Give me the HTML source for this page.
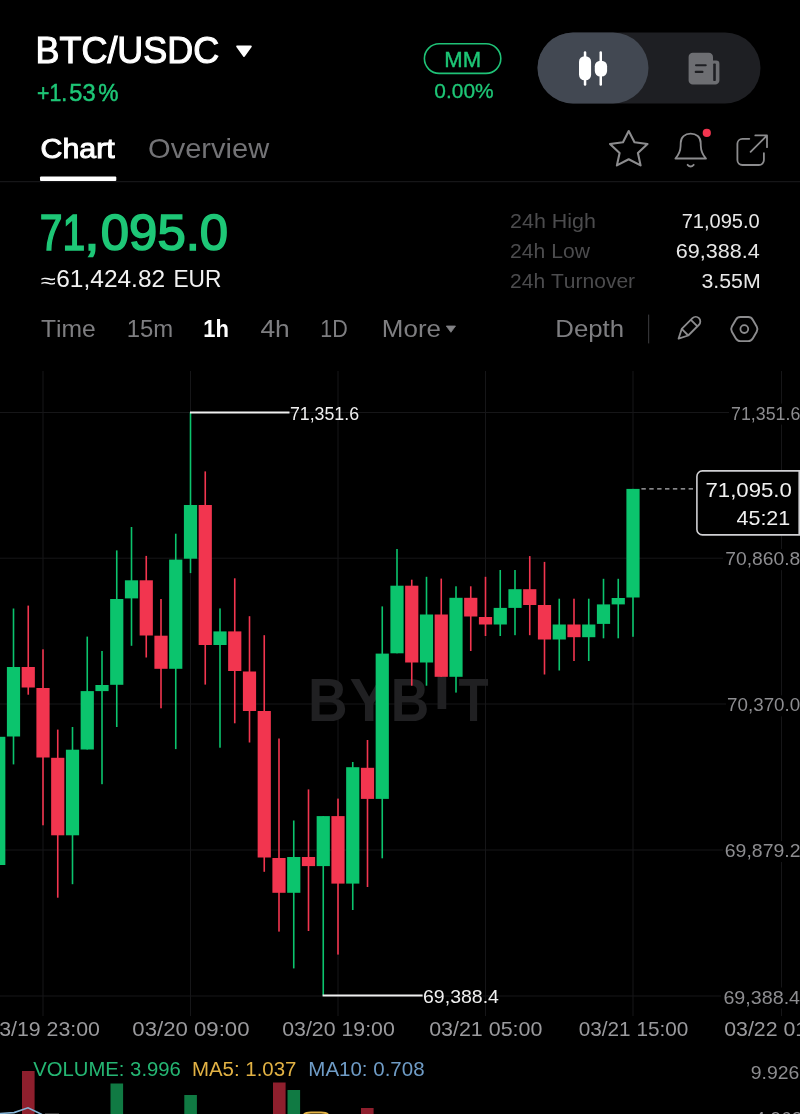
<!DOCTYPE html>
<html><head><meta charset="utf-8"><title>BTC/USDC</title>
<style>
html,body{margin:0;padding:0;background:#000;}
body{width:800px;height:1114px;overflow:hidden;position:relative;}
svg{position:absolute;left:0;top:0;display:block;will-change:transform;}
text{font-family:"Liberation Sans", "DejaVu Sans", sans-serif;font-kerning:none;}
</style></head>
<body>
<svg width="800" height="1114" viewBox="0 0 800 1114">
<rect width="800" height="1114" fill="#000"/>
<rect x="42.5" y="371" width="1" height="645" fill="#161618"/><rect x="190" y="371" width="1" height="645" fill="#161618"/><rect x="337.5" y="371" width="1" height="645" fill="#161618"/><rect x="485" y="371" width="1" height="645" fill="#161618"/><rect x="632.5" y="371" width="1" height="645" fill="#161618"/><rect x="781" y="371" width="1" height="645" fill="#161618"/><rect x="0" y="412" width="729" height="1" fill="#161618"/><rect x="0" y="557.7" width="723" height="1" fill="#161618"/><rect x="0" y="703.5" width="726" height="1" fill="#161618"/><rect x="0" y="849.5" width="723" height="1" fill="#161618"/><rect x="0" y="995.5" width="721" height="1" fill="#161618"/>
<text font-size="61.8" fill="#202022" font-weight="700"><tspan x="308.08" y="721.1" textLength="39.61" lengthAdjust="spacingAndGlyphs">B</tspan><tspan x="349.59" y="721.1" textLength="39.36" lengthAdjust="spacingAndGlyphs">Y</tspan><tspan x="390.84" y="721.1" textLength="38.48" lengthAdjust="spacingAndGlyphs">B</tspan><tspan x="433.46" y="708.8" textLength="16.78" lengthAdjust="spacingAndGlyphs">I</tspan><tspan x="458.45" y="721.1" textLength="30.08" lengthAdjust="spacingAndGlyphs">T</tspan></text>
<rect x="-7.85" y="736.8" width="13.2" height="128.2" fill="#0bc46d"/><rect x="12.7" y="608.5" width="1.6" height="155.9" fill="#0bc46d"/><rect x="6.9" y="667" width="13.2" height="69.5" fill="#0bc46d"/><rect x="27.45" y="605.6" width="1.6" height="89.1" fill="#f2354f"/><rect x="21.65" y="667" width="13.2" height="20.5" fill="#f2354f"/><rect x="42.2" y="649.3" width="1.6" height="176" fill="#f2354f"/><rect x="36.4" y="688" width="13.2" height="69.5" fill="#f2354f"/><rect x="56.95" y="729.6" width="1.6" height="168.1" fill="#f2354f"/><rect x="51.15" y="757.8" width="13.2" height="77.5" fill="#f2354f"/><rect x="71.7" y="727" width="1.6" height="157.2" fill="#0bc46d"/><rect x="65.9" y="749.7" width="13.2" height="85.6" fill="#0bc46d"/><rect x="86.45" y="636.6" width="1.6" height="112.9" fill="#0bc46d"/><rect x="80.65" y="691.1" width="13.2" height="58.4" fill="#0bc46d"/><rect x="101.2" y="651" width="1.6" height="133.2" fill="#0bc46d"/><rect x="95.4" y="685" width="13.2" height="6.1" fill="#0bc46d"/><rect x="115.95" y="550.4" width="1.6" height="176.6" fill="#0bc46d"/><rect x="110.15" y="599" width="13.2" height="85.8" fill="#0bc46d"/><rect x="130.7" y="527" width="1.6" height="118.8" fill="#0bc46d"/><rect x="124.9" y="580.3" width="13.2" height="18.1" fill="#0bc46d"/><rect x="145.45" y="555.9" width="1.6" height="101.6" fill="#f2354f"/><rect x="139.65" y="580.3" width="13.2" height="55.2" fill="#f2354f"/><rect x="160.2" y="599" width="1.6" height="109.3" fill="#f2354f"/><rect x="154.4" y="635.7" width="13.2" height="33.1" fill="#f2354f"/><rect x="174.95" y="533.7" width="1.6" height="215.4" fill="#0bc46d"/><rect x="169.15" y="559.6" width="13.2" height="109.2" fill="#0bc46d"/><rect x="189.7" y="412.5" width="1.6" height="160.6" fill="#0bc46d"/><rect x="183.9" y="505" width="13.2" height="53.7" fill="#0bc46d"/><rect x="204.45" y="471.4" width="1.6" height="213.2" fill="#f2354f"/><rect x="198.65" y="505" width="13.2" height="140" fill="#f2354f"/><rect x="219.2" y="608.4" width="1.6" height="139.3" fill="#0bc46d"/><rect x="213.4" y="631.4" width="13.2" height="13.6" fill="#0bc46d"/><rect x="233.95" y="578.3" width="1.6" height="145" fill="#f2354f"/><rect x="228.15" y="631.4" width="13.2" height="39.6" fill="#f2354f"/><rect x="248.7" y="616.2" width="1.6" height="126.3" fill="#f2354f"/><rect x="242.9" y="671.5" width="13.2" height="39.5" fill="#f2354f"/><rect x="263.45" y="635.2" width="1.6" height="236.6" fill="#f2354f"/><rect x="257.65" y="711" width="13.2" height="146.5" fill="#f2354f"/><rect x="278.2" y="738.5" width="1.6" height="193.1" fill="#f2354f"/><rect x="272.4" y="858" width="13.2" height="34.8" fill="#f2354f"/><rect x="292.95" y="820.5" width="1.6" height="147.9" fill="#0bc46d"/><rect x="287.15" y="857" width="13.2" height="35.8" fill="#0bc46d"/><rect x="307.7" y="789.4" width="1.6" height="141.6" fill="#f2354f"/><rect x="301.9" y="857" width="13.2" height="9.1" fill="#f2354f"/><rect x="322.45" y="816.1" width="1.6" height="179.4" fill="#0bc46d"/><rect x="316.65" y="816.1" width="13.2" height="50" fill="#0bc46d"/><rect x="337.2" y="798.6" width="1.6" height="156" fill="#f2354f"/><rect x="331.4" y="816.1" width="13.2" height="67.5" fill="#f2354f"/><rect x="351.95" y="762" width="1.6" height="148" fill="#0bc46d"/><rect x="346.15" y="767.2" width="13.2" height="116.4" fill="#0bc46d"/><rect x="366.7" y="740" width="1.6" height="147" fill="#f2354f"/><rect x="360.9" y="767.8" width="13.2" height="31.1" fill="#f2354f"/><rect x="381.45" y="606.4" width="1.6" height="251.9" fill="#0bc46d"/><rect x="375.65" y="653.6" width="13.2" height="145.3" fill="#0bc46d"/><rect x="396.2" y="549" width="1.6" height="104.3" fill="#0bc46d"/><rect x="390.4" y="585.7" width="13.2" height="67.6" fill="#0bc46d"/><rect x="410.95" y="579.7" width="1.6" height="106" fill="#f2354f"/><rect x="405.15" y="585.7" width="13.2" height="76.8" fill="#f2354f"/><rect x="425.7" y="576.8" width="1.6" height="108.9" fill="#0bc46d"/><rect x="419.9" y="614.5" width="13.2" height="48" fill="#0bc46d"/><rect x="440.45" y="578.6" width="1.6" height="98.2" fill="#f2354f"/><rect x="434.65" y="614.5" width="13.2" height="62.3" fill="#f2354f"/><rect x="455.2" y="586.3" width="1.6" height="106.3" fill="#0bc46d"/><rect x="449.4" y="597.8" width="13.2" height="79" fill="#0bc46d"/><rect x="469.95" y="586.3" width="1.6" height="64.7" fill="#f2354f"/><rect x="464.15" y="597.8" width="13.2" height="18.7" fill="#f2354f"/><rect x="484.7" y="576.8" width="1.6" height="59.2" fill="#f2354f"/><rect x="478.9" y="617" width="13.2" height="7.5" fill="#f2354f"/><rect x="499.45" y="570" width="1.6" height="66" fill="#0bc46d"/><rect x="493.65" y="607.9" width="13.2" height="16.6" fill="#0bc46d"/><rect x="514.2" y="570" width="1.6" height="65.2" fill="#0bc46d"/><rect x="508.4" y="589.2" width="13.2" height="18.7" fill="#0bc46d"/><rect x="528.95" y="556.1" width="1.6" height="79.1" fill="#f2354f"/><rect x="523.15" y="589.2" width="13.2" height="15.8" fill="#f2354f"/><rect x="543.7" y="561.9" width="1.6" height="112.6" fill="#f2354f"/><rect x="537.9" y="605" width="13.2" height="34.5" fill="#f2354f"/><rect x="558.45" y="598.7" width="1.6" height="71.8" fill="#0bc46d"/><rect x="552.65" y="624.5" width="13.2" height="15" fill="#0bc46d"/><rect x="573.2" y="598.7" width="1.6" height="62.3" fill="#f2354f"/><rect x="567.4" y="624.5" width="13.2" height="12.7" fill="#f2354f"/><rect x="587.95" y="598.7" width="1.6" height="62.3" fill="#0bc46d"/><rect x="582.15" y="624.5" width="13.2" height="12.7" fill="#0bc46d"/><rect x="602.7" y="578.8" width="1.6" height="59.5" fill="#0bc46d"/><rect x="596.9" y="604.4" width="13.2" height="19.5" fill="#0bc46d"/><rect x="617.45" y="578.8" width="1.6" height="59.5" fill="#0bc46d"/><rect x="611.65" y="598" width="13.2" height="6.4" fill="#0bc46d"/><rect x="632.2" y="488.9" width="1.6" height="147.9" fill="#0bc46d"/><rect x="626.4" y="488.9" width="13.2" height="108.6" fill="#0bc46d"/>

<!-- high marker -->
<rect x="190" y="411.5" width="99.5" height="2" fill="#f0f0f0"/>
<!-- low marker -->
<rect x="322.6" y="994.5" width="100" height="2" fill="#f0f0f0"/>
<!-- current price dashed -->
<line x1="641.4" y1="488.9" x2="694" y2="488.9" stroke="#b4b4b7" stroke-width="1.3" stroke-dasharray="4.4 3.47"/>
<path d="M799.2 470.9 H702.4 A5.5 5.5 0 0 0 696.9 476.4 V529.4 A5.5 5.5 0 0 0 702.4 534.9 H799.2 Z" fill="#000" stroke="#d0d0d3" stroke-width="1.6"/>


<rect x="22" y="1071" width="12.6" height="50" fill="#8e1f2d"/>
<rect x="110.5" y="1083.5" width="12.6" height="40" fill="#107a43"/>
<rect x="184.3" y="1095" width="12.6" height="40" fill="#107a43"/>
<rect x="273" y="1082.5" width="12.6" height="40" fill="#8e1f2d"/>
<rect x="287.5" y="1090" width="12.6" height="40" fill="#107a43"/>
<rect x="361" y="1108" width="12.6" height="40" fill="#8e1f2d"/>
<path d="M-2 1113.6 L14 1112.6 L28 1107.8 L42 1114.5" fill="none" stroke="#86b4d6" stroke-width="1.6"/><path d="M45 1113.8 L59 1113.8" fill="none" stroke="#555" stroke-width="1"/>
<path d="M303 1115.5 Q305 1112.5 311 1112.5 L321 1112.5 Q327 1112.5 329 1115.5" fill="none" stroke="#e2b244" stroke-width="1.8"/>


<!-- MM pill -->
<rect x="424.4" y="43.8" width="76.4" height="29.6" rx="14.8" fill="none" stroke="#1fc277" stroke-width="1.6"/>
<!-- toggle -->
<rect x="537.5" y="32.5" width="223" height="71" rx="35.5" fill="#1e1f23"/>
<rect x="537.5" y="32.5" width="111" height="71" rx="35.5" fill="#424852"/>
<!-- candle icon -->
<rect x="583.8" y="51.2" width="2.5" height="34.6" rx="1.2" fill="#fff"/>
<rect x="579" y="56.25" width="12.1" height="24" rx="5.5" fill="#fff"/>
<rect x="599.5" y="51.2" width="2.5" height="34.6" rx="1.2" fill="#fff"/>
<rect x="594.8" y="60.75" width="12.3" height="15.75" rx="5.5" fill="#fff"/>
<!-- doc icon -->
<path d="M692.8 52.7 H708.8 A4.2 4.2 0 0 1 713 56.9 V60.6 H716.2 A3.2 3.2 0 0 1 719.4 63.8 V80.4 A4.2 4.2 0 0 1 715.2 84.6 H692.8 A4.2 4.2 0 0 1 688.6 80.4 V56.9 A4.2 4.2 0 0 1 692.8 52.7 Z" fill="#6d6e72"/>
<rect x="713.2" y="63.4" width="2.6" height="17.6" rx="0.8" fill="#1e1f23"/>
<rect x="695" y="64.2" width="11.75" height="2.1" rx="1" fill="#1e1f23"/>
<rect x="694.7" y="70.8" width="8.8" height="2.1" rx="1" fill="#1e1f23"/>
<!-- title triangle -->
<path d="M237.2 46.4 L250.8 46.4 L244 56 Z" fill="#fff" stroke="#fff" stroke-width="2" stroke-linejoin="round"/>
<!-- star -->
<path d="M628.7 131 L634.5 142.3 L647.5 144 L637.9 153 L640.6 165.4 L628.7 159.2 L616.9 165.4 L619.6 153 L610 144 L623 142.3 Z" fill="none" stroke="#8c8c8e" stroke-width="2.1" stroke-linejoin="round"/>
<!-- bell -->
<path d="M675.4 158.5 C679.5 154 680.5 151 680.6 146 L680.7 143 C680.7 137 685 133.6 690.6 133.6 C696.2 133.6 700.7 137 700.7 143 L700.8 146 C700.9 151 701.9 154 706 158.5 Z" fill="none" stroke="#8c8c8e" stroke-width="1.8" stroke-linejoin="round"/>
<path d="M687.6 164.8 Q690.6 168.2 693.7 164.8" fill="none" stroke="#8c8c8e" stroke-width="1.8" stroke-linecap="round"/>
<circle cx="706.8" cy="132.9" r="4.1" fill="#f2354f"/>
<!-- share -->
<path d="M749.3 138.8 H742.4 A5 5 0 0 0 737.4 143.8 V160 A5 5 0 0 0 742.4 165 H758.9 A5 5 0 0 0 763.9 160 V153.2" fill="none" stroke="#8c8c8e" stroke-width="1.8" stroke-linecap="round"/>
<path d="M750.6 151.8 L766.8 135.6 M755.3 135.4 H767 V147.2" fill="none" stroke="#8c8c8e" stroke-width="1.8" stroke-linecap="round" stroke-linejoin="round"/>
<!-- tabs underline + divider -->
<rect x="40" y="176.5" width="76.3" height="4.5" rx="1" fill="#fff"/>
<rect x="0" y="181.2" width="800" height="1" fill="#1c1c1e"/>
<!-- More triangle -->
<path d="M446.3 326 L455.5 326 L450.9 332.3 Z" fill="#828285" stroke="#828285" stroke-width="0.8" stroke-linejoin="round"/>
<!-- divider -->
<rect x="648" y="314.6" width="1.2" height="28.8" fill="#333336"/>
<!-- pencil -->
<g transform="translate(678.6 338.6) rotate(-45)" fill="none" stroke="#8c8c8e" stroke-width="1.8" stroke-linejoin="round">
  <path d="M0 0 L9 -4.6 H24.2 A4.6 4.6 0 0 1 24.2 4.6 H9 Z"/>
  <path d="M9 -4.6 V4.6 M22 -4.6 V4.6"/>
</g>
<!-- hex -->
<path d="M731.90 331.70 Q730.40 329.10 731.90 326.50 L735.85 319.66 Q737.35 317.06 740.35 317.06 L748.25 317.06 Q751.25 317.06 752.75 319.66 L756.70 326.50 Q758.20 329.10 756.70 331.70 L752.75 338.54 Q751.25 341.14 748.25 341.14 L740.35 341.14 Q737.35 341.14 735.85 338.54 Z" fill="none" stroke="#8c8c8e" stroke-width="1.9" stroke-linejoin="round"/>
<circle cx="744.3" cy="329.1" r="3.9" fill="none" stroke="#8c8c8e" stroke-width="1.8"/>

<text x="35.5" y="63.4" font-size="37" fill="#ffffff" font-weight="400" text-anchor="start" textLength="183.72" lengthAdjust="spacingAndGlyphs" stroke="#ffffff" stroke-width="1.1">BTC/USDC</text><text font-size="23.5" fill="#1ec777" font-weight="400" stroke="#1ec777" stroke-width="0.5"><tspan x="37.11" y="101.2" textLength="30.07" lengthAdjust="spacingAndGlyphs">+1.</tspan><tspan x="69.31" y="101.2" textLength="26.23" lengthAdjust="spacingAndGlyphs">53</tspan><tspan x="98.14" y="101.2" textLength="20.22" lengthAdjust="spacingAndGlyphs">%</tspan></text><text x="444.39" y="66.6" font-size="21.2" fill="#1ec777" font-weight="400" text-anchor="start" textLength="36.83" lengthAdjust="spacingAndGlyphs" stroke="#1ec777" stroke-width="0.4">MM</text><text x="434.33" y="98" font-size="20.3" fill="#1ec777" font-weight="400" text-anchor="start" textLength="59.26" lengthAdjust="spacingAndGlyphs" stroke="#1ec777" stroke-width="0.3">0.00%</text><text x="40.46" y="157.6" font-size="28.2" fill="#ffffff" font-weight="400" text-anchor="start" textLength="74.26" lengthAdjust="spacingAndGlyphs" stroke="#ffffff" stroke-width="1.0">Chart</text><text x="148.12" y="157.8" font-size="28.3" fill="#737376" font-weight="400" text-anchor="start" textLength="121" lengthAdjust="spacingAndGlyphs">Overview</text><text font-size="50.5" fill="#1ec777" font-weight="400" stroke="#1ec777" stroke-width="1.6"><tspan x="39.7" y="249.9" textLength="45.49" lengthAdjust="spacingAndGlyphs">71</tspan><tspan x="84.36" y="249.9" textLength="15.29" lengthAdjust="spacingAndGlyphs">,</tspan><tspan x="100.81" y="249.9" textLength="127.38" lengthAdjust="spacingAndGlyphs">095.0</tspan></text><text font-size="24" fill="#f2f2f2" font-weight="400"><tspan font-size="21" x="40.85" y="287.8" textLength="14.99" lengthAdjust="spacingAndGlyphs">≈</tspan><tspan x="56.26" y="287.4" textLength="115.67" lengthAdjust="spacingAndGlyphs">61,424.82 </tspan><tspan x="173.43" y="287.4" textLength="48.02" lengthAdjust="spacingAndGlyphs">EUR</tspan></text><text x="510.12" y="228" font-size="20.3" fill="#4c4c4e" font-weight="400" text-anchor="start" textLength="85.77" lengthAdjust="spacingAndGlyphs">24h High</text><text x="681.67" y="228" font-size="20.3" fill="#e8e8e8" font-weight="400" text-anchor="start" textLength="78.11" lengthAdjust="spacingAndGlyphs">71,095.0</text><text x="510.14" y="257.75" font-size="20.3" fill="#4c4c4e" font-weight="400" text-anchor="start" textLength="79.81" lengthAdjust="spacingAndGlyphs">24h Low</text><text x="675.71" y="257.75" font-size="20.3" fill="#e8e8e8" font-weight="400" text-anchor="start" textLength="83.93" lengthAdjust="spacingAndGlyphs">69,388.4</text><text x="510.14" y="287.5" font-size="20.3" fill="#4c4c4e" font-weight="400" text-anchor="start" textLength="125.01" lengthAdjust="spacingAndGlyphs">24h Turnover</text><text x="701.49" y="287.5" font-size="20.3" fill="#e8e8e8" font-weight="400" text-anchor="start" textLength="59.26" lengthAdjust="spacingAndGlyphs">3.55M</text><text x="40.95" y="337.2" font-size="24.5" fill="#7e7e81" font-weight="400" text-anchor="start" textLength="54.75" lengthAdjust="spacingAndGlyphs">Time</text><text x="126.68" y="337.2" font-size="24.5" fill="#7e7e81" font-weight="400" text-anchor="start" textLength="46.5" lengthAdjust="spacingAndGlyphs">15m</text><text x="203.22" y="337.2" font-size="24.5" fill="#ffffff" font-weight="700" text-anchor="start" textLength="25.65" lengthAdjust="spacingAndGlyphs">1h</text><text x="260.4" y="337.2" font-size="24.5" fill="#7e7e81" font-weight="400" text-anchor="start" textLength="29.32" lengthAdjust="spacingAndGlyphs">4h</text><text x="320.36" y="337.2" font-size="24.5" fill="#7e7e81" font-weight="400" text-anchor="start" textLength="27.46" lengthAdjust="spacingAndGlyphs">1D</text><text x="381.87" y="337.2" font-size="24.5" fill="#7e7e81" font-weight="400" text-anchor="start" textLength="59.08" lengthAdjust="spacingAndGlyphs">More</text><text x="555.28" y="337.2" font-size="24.5" fill="#7e7e81" font-weight="400" text-anchor="start" textLength="68.89" lengthAdjust="spacingAndGlyphs">Depth</text><rect x="730" y="403.6" width="70" height="21" fill="#000"/><text x="731.09" y="419.6" font-size="18.2" fill="#8d8d90" font-weight="400" text-anchor="start" textLength="69.19" lengthAdjust="spacingAndGlyphs">71,351.6</text><rect x="724.3" y="549.1" width="75.7" height="21" fill="#000"/><text x="725.31" y="565.1" font-size="18.2" fill="#8d8d90" font-weight="400" text-anchor="start" textLength="75.03" lengthAdjust="spacingAndGlyphs">70,860.8</text><rect x="726.1" y="695.4" width="73.9" height="21" fill="#000"/><text x="727.14" y="711.4" font-size="18.2" fill="#8d8d90" font-weight="400" text-anchor="start" textLength="73.1" lengthAdjust="spacingAndGlyphs">70,370.0</text><rect x="723.8" y="841" width="76.2" height="21" fill="#000"/><text x="724.81" y="857" font-size="18.2" fill="#8d8d90" font-weight="400" text-anchor="start" textLength="75.66" lengthAdjust="spacingAndGlyphs">69,879.2</text><rect x="722.4" y="987.5" width="77.6" height="21" fill="#000"/><text x="723.4" y="1003.5" font-size="18.2" fill="#8d8d90" font-weight="400" text-anchor="start" textLength="76.68" lengthAdjust="spacingAndGlyphs">69,388.4</text><text x="289.89" y="420.2" font-size="18.2" fill="#f0f0f0" font-weight="400" text-anchor="start" textLength="69.19" lengthAdjust="spacingAndGlyphs">71,351.6</text><text x="423.01" y="1002.5" font-size="18.2" fill="#f0f0f0" font-weight="400" text-anchor="start" textLength="75.96" lengthAdjust="spacingAndGlyphs">69,388.4</text><text x="705.46" y="497.4" font-size="21" fill="#f0f0f0" font-weight="400" text-anchor="start" textLength="86.41" lengthAdjust="spacingAndGlyphs">71,095.0</text><text x="736.51" y="524.7" font-size="21" fill="#f0f0f0" font-weight="400" text-anchor="start" textLength="53.74" lengthAdjust="spacingAndGlyphs">45:21</text><text x="-12.73" y="1035.7" font-size="21" fill="#9a9a9d" font-weight="400" text-anchor="start" textLength="112.67" lengthAdjust="spacingAndGlyphs">03/19 23:00</text><text x="132.33" y="1035.7" font-size="21" fill="#9a9a9d" font-weight="400" text-anchor="start" textLength="117.13" lengthAdjust="spacingAndGlyphs">03/20 09:00</text><text x="282.17" y="1035.7" font-size="21" fill="#9a9a9d" font-weight="400" text-anchor="start" textLength="112.67" lengthAdjust="spacingAndGlyphs">03/20 19:00</text><text x="429.16" y="1035.7" font-size="21" fill="#9a9a9d" font-weight="400" text-anchor="start" textLength="113.17" lengthAdjust="spacingAndGlyphs">03/21 05:00</text><text x="578.69" y="1035.7" font-size="21" fill="#9a9a9d" font-weight="400" text-anchor="start" textLength="109.62" lengthAdjust="spacingAndGlyphs">03/21 15:00</text><text x="724.17" y="1035.7" font-size="21" fill="#9a9a9d" font-weight="400" text-anchor="start" textLength="112.67" lengthAdjust="spacingAndGlyphs">03/22 01:00</text><text x="33.16" y="1075.8" font-size="20.3" fill="#25b673" font-weight="400" text-anchor="start" textLength="147.73" lengthAdjust="spacingAndGlyphs">VOLUME: 3.996</text><text x="191.92" y="1075.8" font-size="20.3" fill="#e2b244" font-weight="400" text-anchor="start" textLength="104.5" lengthAdjust="spacingAndGlyphs">MA5: 1.037</text><text x="308.32" y="1075.8" font-size="20.3" fill="#6f9cc6" font-weight="400" text-anchor="start" textLength="116.27" lengthAdjust="spacingAndGlyphs">MA10: 0.708</text><text x="750.79" y="1078.8" font-size="18.5" fill="#8d8d90" font-weight="400" text-anchor="start" textLength="48.56" lengthAdjust="spacingAndGlyphs">9.926</text><text x="754.56" y="1125" font-size="18.5" fill="#8d8d90" font-weight="400" text-anchor="start" textLength="47.78" lengthAdjust="spacingAndGlyphs">4.963</text>
</svg>
</body></html>
